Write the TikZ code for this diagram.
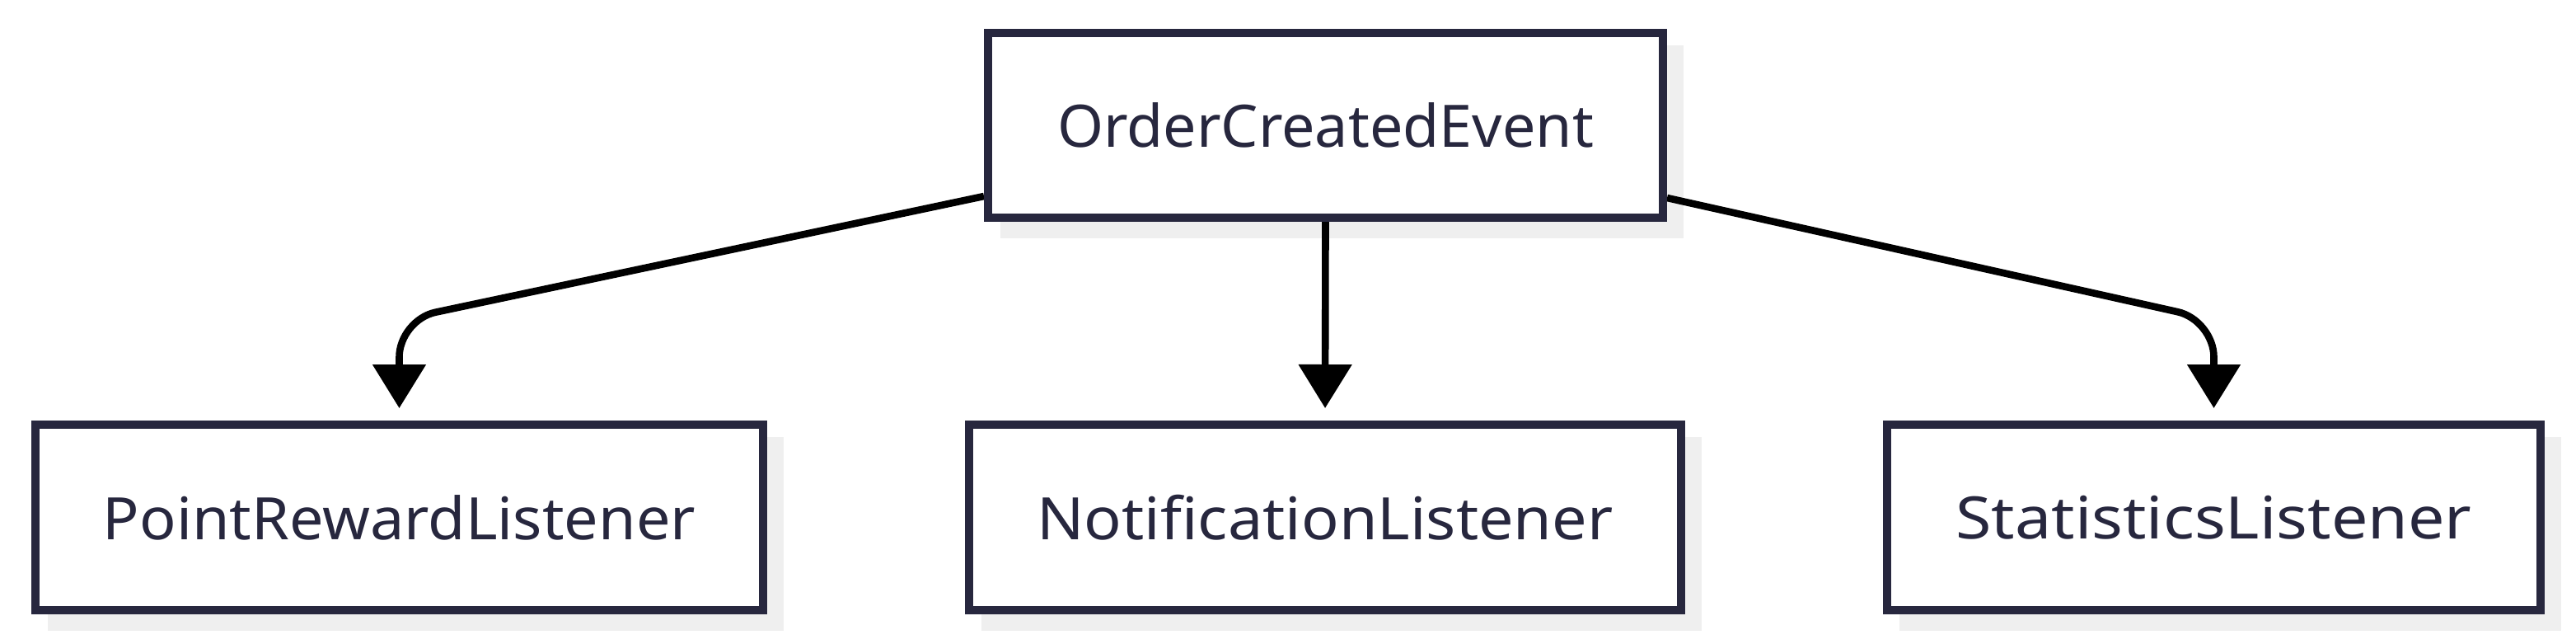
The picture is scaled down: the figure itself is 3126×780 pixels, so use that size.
\documentclass[tikz,border=0pt]{standalone}
\usepackage{fontspec}
\setmainfont{Noto Sans}
\usepackage{graphicx}
\usetikzlibrary{arrows.meta,backgrounds}
\definecolor{navy}{RGB}{39,39,62}
\definecolor{shadowgray}{RGB}{239,239,239}
\newcommand{\boxlabel}[2]{\resizebox{#1}{\height}{#2}}
\tikzset{
  classbox/.style={draw=navy, line width=10pt, fill=white, rectangle, inner sep=0pt,
    text=navy, font=\fontsize{71pt}{80pt}\selectfont, minimum height=224pt},
  boxshadow/.style={fill=shadowgray},
  edge/.style={draw=black, line width=8.6pt, shorten >=15pt,
    -{Triangle[length=53pt,width=63pt]}},
}
\begin{document}
\begin{tikzpicture}[x=1pt,y=-1pt]
\useasboundingbox (0,0) rectangle (3126,780);
\node[classbox, minimum width=819pt] (a) at (1608.5,152) {\boxlabel{651pt}{OrderCreatedEvent}};
\node[classbox, minimum width=883pt, minimum height=225pt] (b1) at (484.5,627.5) {\boxlabel{719pt}{PointRewardListener}};
\node[classbox, minimum width=864pt, minimum height=225pt] (b2) at (1608,627.5) {\boxlabel{699pt}{NotificationListener}};
\node[classbox, minimum width=793pt, minimum height=225pt] (b3) at (2686.5,627.5) {\boxlabel{626pt}{StatisticsListener}};
\begin{scope}[on background layer]
  \fill[white] (0,0) rectangle (3126,780);
  \foreach \n in {a,b1,b2,b3} {
    \fill[boxshadow] ([shift={(20pt,-20pt)}]\n.south west) rectangle ([shift={(20pt,-20pt)}]\n.north east);
  }
  \coordinate (l1) at ([yshift=31pt]a.south west);
  \coordinate (r1) at ([yshift=29pt]a.south east);
  \draw[edge, rounded corners=45pt] (l1) -- ([yshift=122pt]b1.north) -- (b1.north);
  \draw[edge] (a.south) -- (b2.north);
  \draw[edge, rounded corners=45pt] (r1) -- ([yshift=122pt]b3.north) -- (b3.north);
\end{scope}
\end{tikzpicture}
\end{document}
